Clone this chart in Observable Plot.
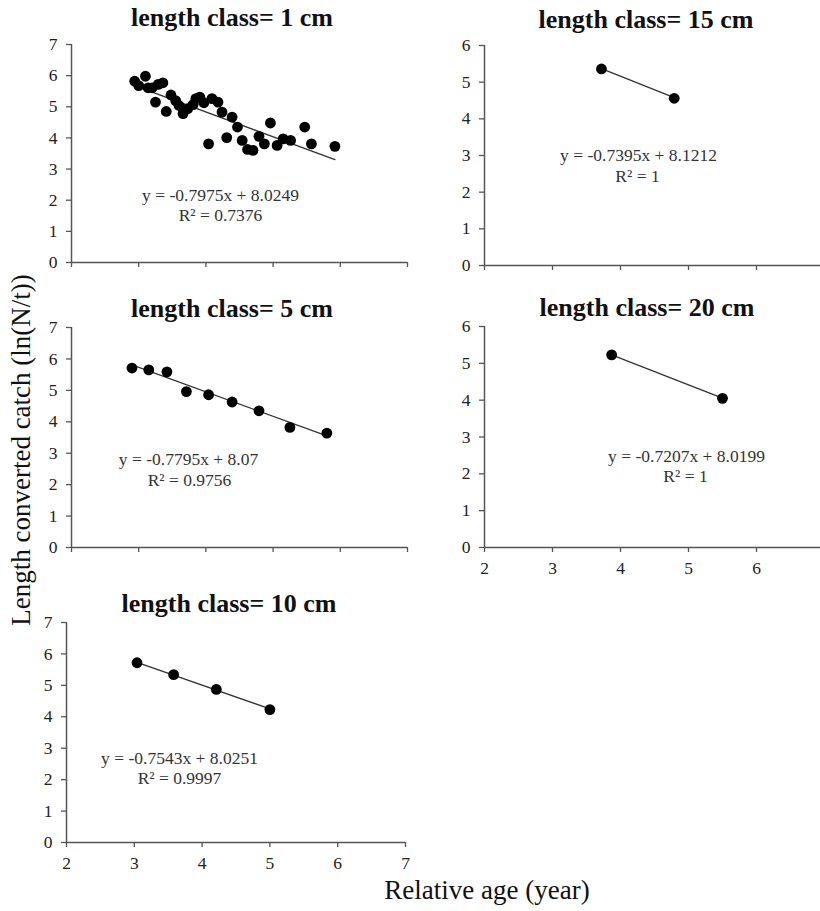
<!DOCTYPE html>
<html>
<head>
<meta charset="utf-8">
<script src="https://cdn.jsdelivr.net/npm/d3@7"></script>
<script src="https://cdn.jsdelivr.net/npm/@observablehq/plot@0.6"></script>
<style>
  html, body { margin: 0; padding: 0; background: #fff; overflow: hidden; }
  #wrap { position: relative; width: 820px; height: 911px; overflow: hidden;
          font-family: "Liberation Serif", "Times New Roman", serif; color: #111; }
  .panel { position: absolute; }
  .panel text { font-family: "Liberation Serif", "Times New Roman", serif; }
  .title { position: absolute; font-weight: bold; font-size: 26px; line-height: 26px;
           white-space: nowrap; transform: translateX(-50%); }
  .axlabel { position: absolute; font-size: 27px; line-height: 27px; white-space: nowrap; }
</style>
</head>
<body>
<div id="wrap"></div>
<script>
// ---------- data ----------
const lengthClasses = ["1 cm", "5 cm", "10 cm", "15 cm", "20 cm"];

const age1cm = [2.94, 3.00, 3.10, 3.14, 3.20, 3.29, 3.36, 3.25, 3.41, 3.48, 3.55, 3.60, 3.66, 3.73,
                3.81, 3.85, 3.91, 3.97, 4.09, 4.18, 4.24, 4.39, 4.47, 4.31, 4.04, 4.54, 4.62, 4.70,
                4.79, 4.87, 4.96, 5.06, 5.15, 5.26, 5.47, 5.57, 5.92];
const lnCatch1cm = [5.82, 5.68, 5.98, 5.61, 5.61, 5.72, 5.77, 5.15, 4.85, 5.38, 5.20, 5.04, 4.78, 4.94,
                    5.07, 5.26, 5.31, 5.13, 5.26, 5.15, 4.83, 4.67, 4.35, 4.01, 3.81, 3.92, 3.63, 3.60,
                    4.05, 3.81, 4.48, 3.76, 3.97, 3.92, 4.35, 3.81, 3.73];

const age5cm = [2.90, 3.15, 3.42, 3.71, 4.04, 4.39, 4.79, 5.25, 5.80];
const lnCatch5cm = [5.71, 5.65, 5.59, 4.96, 4.86, 4.63, 4.35, 3.82, 3.64];

const age10cm = [3.04, 3.58, 4.21, 5.00];
const lnCatch10cm = [5.72, 5.34, 4.87, 4.23];

const age15cm = [3.72, 4.79];
const lnCatch15cm = [5.36, 4.56];

const age20cm = [3.87, 5.50];
const lnCatch20cm = [5.23, 4.05];

const slopes = [-0.7975, -0.7795, -0.7543, -0.7395, -0.7207];
const intercepts = [8.0249, 8.07, 8.0251, 8.1212, 8.0199];
const equationLabels = ["y = -0.7975x + 8.0249", "y = -0.7795x + 8.07", "y = -0.7543x + 8.0251",
                        "y = -0.7395x + 8.1212", "y = -0.7207x + 8.0199"];
const r2Labels = ["R\u00B2 = 0.7376", "R\u00B2 = 0.9756", "R\u00B2 = 0.9997", "R\u00B2 = 1", "R\u00B2 = 1"];

const xTicks = [2, 3, 4, 5, 6, 7];
const yTicksLeft = [0, 1, 2, 3, 4, 5, 6, 7];
const yTicksRight = [0, 1, 2, 3, 4, 5, 6];

const yAxisTitle = "Length converted catch (ln(N/t))";
const xAxisTitle = "Relative age (year)";

// ---------- layout (pixels) ----------
const layout = [
  { x0: 71, x1: 407, yTop: 44,  yBot: 262, yMax: 7, showX: false, title: [232, 27],
    eq: [220, 195], r2: [220, 215] },
  { x0: 71, x1: 407, yTop: 327, yBot: 547, yMax: 7, showX: false, title: [232, 318],
    eq: [188, 459], r2: [189, 480] },
  { x0: 66, x1: 405, yTop: 622, yBot: 842, yMax: 7, showX: true,  title: [229, 613],
    eq: [179, 758], r2: [179, 778] },
  { x0: 484, x1: 824, yTop: 45, yBot: 265, yMax: 6, showX: false, title: [646, 29],
    eq: [638, 155], r2: [637, 176] },
  { x0: 484, x1: 824, yTop: 326, yBot: 547, yMax: 6, showX: true,  title: [647, 317],
    eq: [686, 456], r2: [685, 476] }
];

const ages = [age1cm, age5cm, age10cm, age15cm, age20cm];
const catches = [lnCatch1cm, lnCatch5cm, lnCatch10cm, lnCatch15cm, lnCatch20cm];

const wrap = document.getElementById("wrap");
const mL = 60, mR = 24, mT = 12, mB = 34;
const font = '"Liberation Serif", "Times New Roman", serif';

lengthClasses.forEach((lc, i) => {
  const L = layout[i];
  const pts = ages[i].map((a, j) => ({ age: a, ln: catches[i][j] }));
  const xmin = d3.min(ages[i]), xmax = d3.max(ages[i]);
  const trend = [xmin, xmax].map(a => ({ age: a, ln: slopes[i] * a + intercepts[i] }));
  const plotW = L.x1 - L.x0, plotH = L.yBot - L.yTop;
  const yTicks = L.yMax === 7 ? yTicksLeft : yTicksRight;

  const chart = Plot.plot({
    width: mL + plotW + mR,
    height: mT + plotH + mB,
    marginLeft: mL, marginRight: mR, marginTop: mT, marginBottom: mB,
    x: { domain: [2, 7] },
    y: { domain: [0, L.yMax] },
    style: { fontFamily: font, fontSize: "17px", color: "#222", background: "transparent", overflow: "visible" },
    marks: [
      Plot.axisY({ ticks: yTicks, tickSize: 5, tickPadding: 9, label: null, stroke: "#555", strokeWidth: 1.3,
                   tickFormat: d => String(d), fontFamily: font, fontSize: 17.5, fill: "#222" }),
      Plot.axisX({ ticks: xTicks, tickSize: 5, tickPadding: 9, label: null, stroke: "#555", strokeWidth: 1.3,
                   tickFormat: L.showX ? (d => String(d)) : (() => ""), fontFamily: font, fontSize: 17.5, fill: "#222" }),
      Plot.ruleX([2], { stroke: "#555", strokeWidth: 1.5 }),
      Plot.ruleY([0], { stroke: "#555", strokeWidth: 1.5 }),
      Plot.line(trend, { x: "age", y: "ln", stroke: "#333", strokeWidth: 1.3 }),
      Plot.dot(pts, { x: "age", y: "ln", r: 5.4, fill: "#000", stroke: "none" }),
      Plot.text([equationLabels[i]], { text: d => d, frameAnchor: "top-left",
        dx: L.eq[0] - L.x0, dy: L.eq[1] - L.yTop, textAnchor: "middle", lineAnchor: "middle",
        fontSize: 17.5, fontFamily: font, fill: "#333" }),
      Plot.text([r2Labels[i]], { text: d => d, frameAnchor: "top-left",
        dx: L.r2[0] - L.x0, dy: L.r2[1] - L.yTop, textAnchor: "middle", lineAnchor: "middle",
        fontSize: 17.5, fontFamily: font, fill: "#333" })
    ]
  });
  chart.classList.add("panel");
  chart.style.left = (L.x0 - mL) + "px";
  chart.style.top = (L.yTop - mT) + "px";
  wrap.appendChild(chart);

  const t = document.createElement("div");
  t.className = "title";
  t.textContent = "length class= " + lc;
  t.style.left = L.title[0] + "px";
  t.style.top = (L.title[1] - 0.8375 * 26) + "px";
  wrap.appendChild(t);
});

// axis titles
const xl = document.createElement("div");
xl.className = "axlabel";
xl.textContent = xAxisTitle;
xl.style.left = "487px";
xl.style.top = (900 - 0.8375 * 27) + "px";
xl.style.transform = "translateX(-50%)";
wrap.appendChild(xl);

const yl = document.createElement("div");
yl.className = "axlabel";
yl.textContent = yAxisTitle;
yl.style.left = "21px";
yl.style.top = "450px";
yl.style.transform = "translate(-50%, -50%) rotate(-90deg)";
wrap.appendChild(yl);
</script>
</body>
</html>
